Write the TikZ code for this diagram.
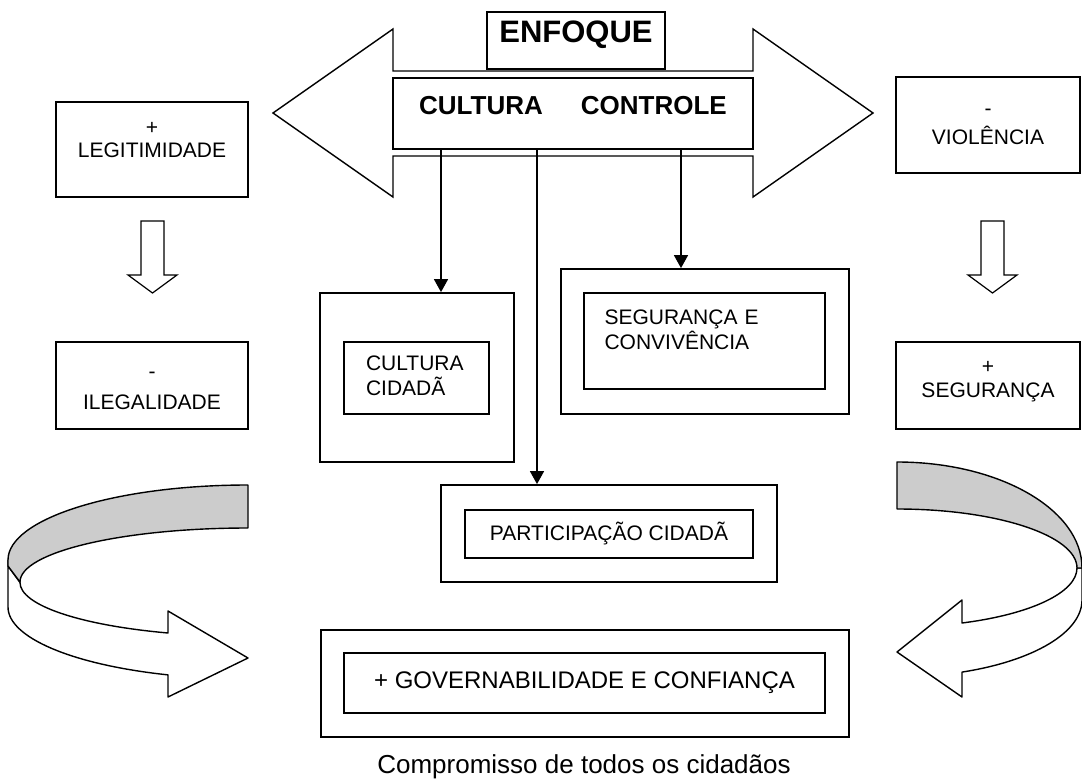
\documentclass[tikz,border=0pt]{standalone}
\usepackage{fontspec}
\setmainfont{Liberation Sans}
\usetikzlibrary{arrows.meta}

\begin{document}
\begin{tikzpicture}[
  x=1bp, y=-1bp,
  %--- text ---
  base/.style={font=\fontsize{21bp}{23bp}\selectfont},
  hdr/.style={font=\fontsize{#1}{#1}\selectfont\bfseries},
  %--- boxes ---
  frame/.style={draw, line width=1.8bp, inner sep=0pt, fill=white},
  inbox/.style={frame, base, align=center},
  side/.style={frame, base, text width=170bp, align=center, minimum width=192bp},
  %--- arrows ---
  arr/.style={-{Triangle[length=13bp,width=14bp]}, line width=1.6bp},
  blockarr/.style={draw, line width=1.2bp, fill=white, line join=miter},
  ribbon/.style={draw, line width=1.4bp, fill=white, line join=round},
  shade/.style={ribbon, fill=gray!40}
]
\useasboundingbox (0,0) rectangle (1082,780);

%% ── TOP: double arrow + ENFOQUE ─────────────────────────────────────────────
\draw[line width=1.4bp, line join=miter] (273,113) -- (393,29) -- (393,71) -- (753,71)
  -- (753,29) -- (873,113) -- (753,197) -- (753,156) -- (393,156) -- (393,197) -- cycle;
\node[frame, line width=2.6bp, minimum width=360bp, minimum height=71bp, hdr=26bp,
  text height=18.6bp, text depth=17bp] (bar) at (573,113.5) {CULTURA\hspace{38bp}CONTROLE};
\node[frame, line width=2.4bp, minimum width=178bp, minimum height=57bp, hdr=31bp,
  text height=22.2bp, text depth=18bp] (enfoque) at (576,40.5) {ENFOQUE};

%% ── SIDES ───────────────────────────────────────────────────────────────────
\node[side, minimum height=95bp, text height=16bp, text depth=46.2bp] (legit) at (152,149.5)
  {+\\LEGITIMIDADE};
\node[side, minimum height=87bp, text height=16bp, text depth=29.4bp] (ileg) at (152,385.5)
  {-\\[7.7bp]ILEGALIDADE};
\node[side, minimum width=184bp, minimum height=96bp, text height=16bp, text depth=34.4bp]
  (viol) at (988,125) {-\\[5.7bp]VIOLÊNCIA};
\node[side, minimum width=184bp, minimum height=87bp, text height=16bp, text depth=40.2bp]
  (segur) at (988,385.5) {+\\[1bp]SEGURANÇA};

\foreach \cx in {152.5,992.5}
  \draw[blockarr] (\cx-11.5,221) -- (\cx+11.5,221) -- (\cx+11.5,275) -- (\cx+24.5,275)
    -- (\cx,293) -- (\cx-24.5,275) -- (\cx-11.5,275) -- cycle;

%% ── CENTRE: nested boxes ────────────────────────────────────────────────────
\node[frame, minimum width=194bp, minimum height=169bp] (cidada) at (417,377.5) {};
\node[inbox, minimum width=145bp, minimum height=72bp, text width=101bp, align=left,
  text height=16bp, text depth=31bp] (cidada-in) at (416.5,378) {CULTURA\\[2bp]CIDADÃ};

\node[frame, minimum width=288bp, minimum height=145bp] (seg) at (705,341.5) {};
\node[inbox, minimum width=241bp, minimum height=96bp, text width=200bp, align=left,
  text height=16bp, text depth=49bp] (seg-in) at (704.5,341) {SEGURANÇA E\\[2bp]CONVIVÊNCIA};

\node[frame, minimum width=336bp, minimum height=97bp] (part) at (609,533.5) {};
\node[inbox, minimum width=288bp, minimum height=48bp] (part-in) at (609,534)
  {PARTICIPAÇÃO CIDADÃ};

\node[frame, minimum width=528bp, minimum height=107bp] (gov) at (585,683.5) {};
\node[inbox, font=\fontsize{24bp}{26bp}\selectfont, minimum width=481bp, minimum height=60bp]
  (gov-in) at (584.5,683) {+ GOVERNABILIDADE E CONFIANÇA};

\node[font=\fontsize{26bp}{28bp}\selectfont] (lema) at (584,767) {Compromisso de todos os cidadãos};

%% ── ARROWS from the bar ─────────────────────────────────────────────────────
\coordinate (c1) at (441,0);
\coordinate (c2) at (537,0);
\coordinate (c3) at (681,0);
\draw[arr] (bar.south -| c1) -- (cidada.north -| c1);
\draw[arr] (bar.south -| c2) -- (part.north -| c2);
\draw[arr] (bar.south -| c3) -- (seg.north -| c3);

%% ── LOOP ARROWS ─────────────────────────────────────────────────────────────
\draw[ribbon] (8,560) -- (8,607) arc[start angle=180, end angle=109.47, x radius=240, y radius=72]
  -- (168,697) -- (248,658) -- (168,611) -- (168,633)
  arc[start angle=110.54, end angle=180, x radius=228, y radius=54] -- (8,566) -- cycle;
\draw[shade] (248,485) arc[start angle=-90, end angle=-180, x radius=240, y radius=75]
  -- (8,566) -- (20,582) arc[start angle=180, end angle=270, x radius=228, y radius=54] -- cycle;

\begin{scope}
  \clip (0,0) rectangle (1082,780);
  \draw[ribbon] (1082,568) -- (1082,600) arc[start angle=0, end angle=69.43, x radius=185, y radius=77]
    -- (962,697) -- (897,652) -- (962,600) -- (962,623)
    arc[start angle=68.83, end angle=0, x radius=180, y radius=59] -- cycle;
  \draw[shade] (897,462) arc[start angle=-90, end angle=0, x radius=185, y radius=106]
    -- (1077,568) arc[start angle=0, end angle=-90, x radius=180, y radius=59] -- cycle;
\end{scope}
\end{tikzpicture}
\end{document}
